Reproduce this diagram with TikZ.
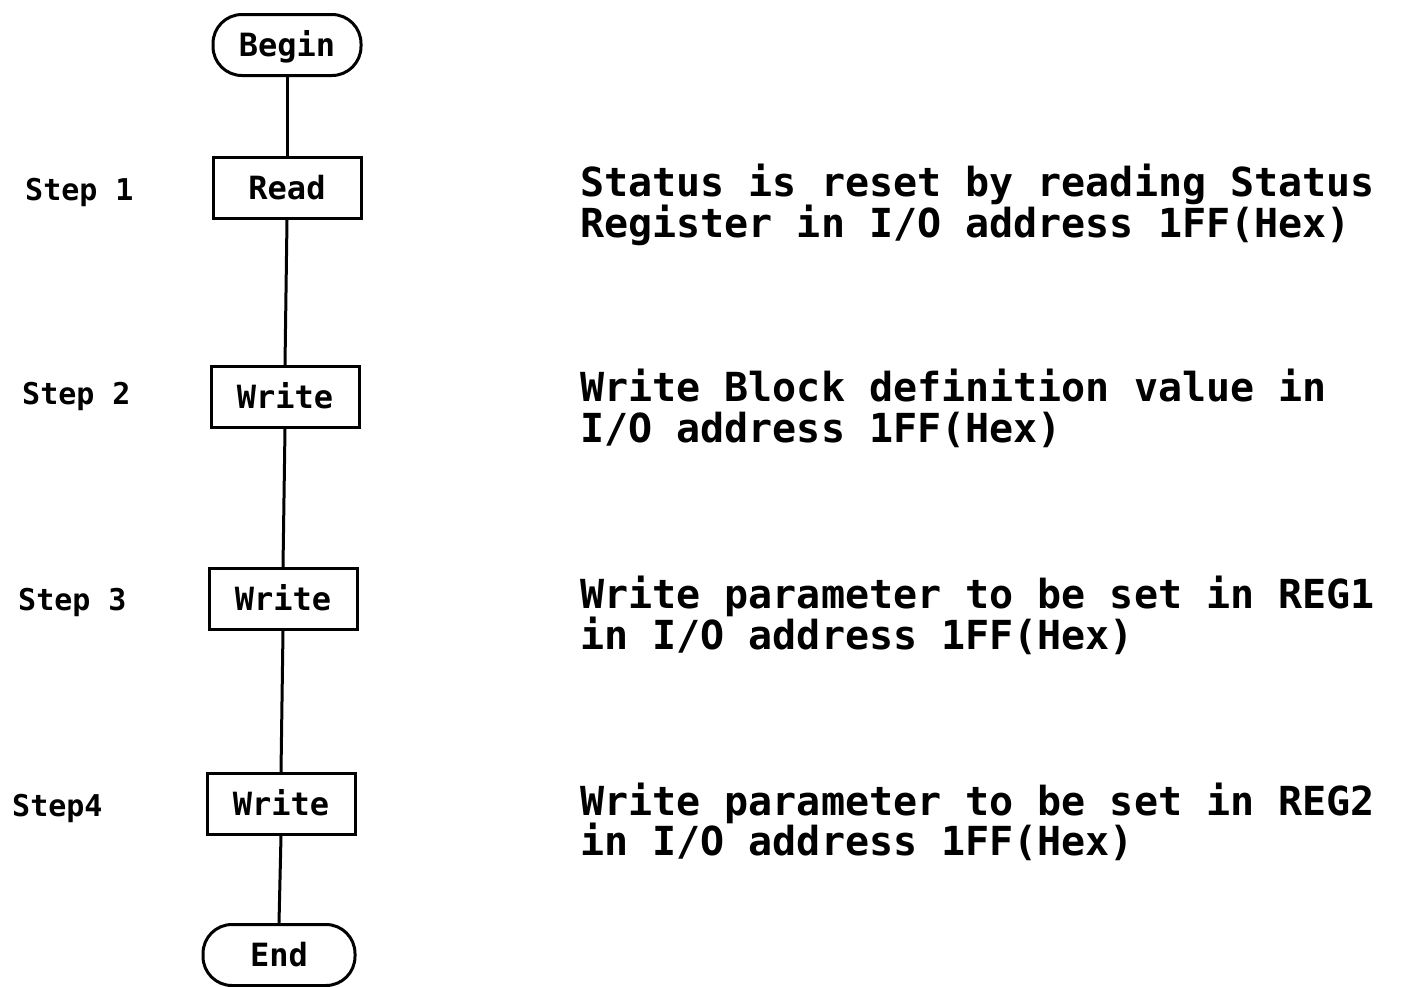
\documentclass[tikz,border=0pt]{standalone}
\usepackage{fontspec}
\setmonofont{DejaVu Sans Mono}
\begin{document}
\begin{tikzpicture}[x=1pt,y=-1pt,
  box/.style={draw,line width=3pt,minimum width=148pt,minimum height=61pt,inner sep=0pt,
    font=\ttfamily\bfseries\fontsize{32}{32}\selectfont,text height=23pt,text depth=0pt},
  term/.style={box,rounded corners=29pt},
  lbl/.style={anchor=base west,inner sep=0pt,font=\ttfamily\bfseries\fontsize{30}{30}\selectfont},
  desc/.style={anchor=base west,inner sep=0pt,font=\ttfamily\bfseries\fontsize{40}{40}\selectfont},
  link/.style={line width=3pt}]
\useasboundingbox (0,0) rectangle (1417,986);
\fill[white] (0,0) rectangle (1417,986);

\node[term] (begin) at (287,45) {Begin};
\node[box] (read) at (287,188) {Read};
\node[box] (w2) at (285,397) {Write};
\node[box] (w3) at (283,599) {Write};
\node[box] (w4) at (281,804) {Write};
\node[term,minimum width=152pt] (end) at (279,955) {End};

\draw[link] (begin.south) -- (read.north);
\draw[link] (read.south) -- (w2.north);
\draw[link] (w2.south) -- (w3.north);
\draw[link] (w3.south) -- (w4.north);
\draw[link] (w4.south) -- (end.north);

\node[lbl] (s1) at (25,200) {Step 1};
\node[lbl] (s2) at (22,404) {Step 2};
\node[lbl] (s3) at (18,610) {Step 3};
\node[lbl] (s4) at (12,816) {Step4};

\node[desc] (d1a) at (580,196) {Status is reset by reading Status};
\node[desc] (d1b) at (580,237) {Register in I/O address 1FF(Hex)};
\node[desc] (d2a) at (580,401) {Write Block definition value in};
\node[desc] (d2b) at (580,442) {I/O address 1FF(Hex)};
\node[desc] (d3a) at (580,608) {Write parameter to be set in REG1};
\node[desc] (d3b) at (580,649) {in I/O address 1FF(Hex)};
\node[desc] (d4a) at (580,815) {Write parameter to be set in REG2};
\node[desc] (d4b) at (580,855) {in I/O address 1FF(Hex)};
\end{tikzpicture}
\end{document}
